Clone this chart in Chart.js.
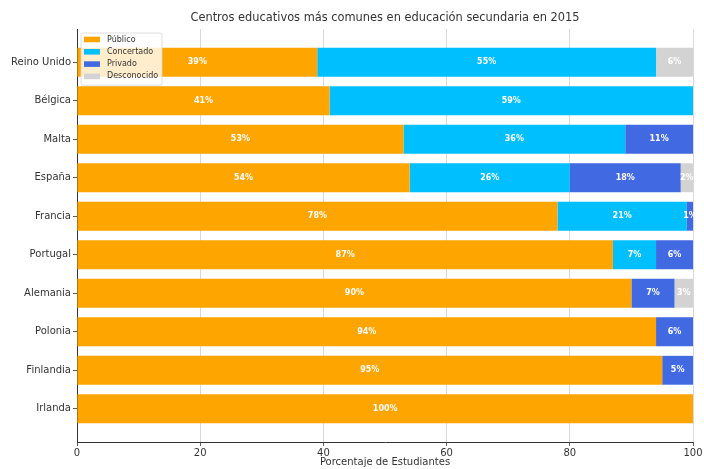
<!DOCTYPE html>
<html>
<head>
<meta charset="utf-8">
<script src="https://cdn.jsdelivr.net/npm/chart.js@4"></script>
<style>
  html, body { margin: 0; padding: 0; background: #ffffff; }
  #wrap { width: 704px; height: 469px; }
</style>
</head>
<body>
<div id="wrap"><canvas id="chart" width="704" height="469"></canvas></div>
<script>
// Country rows, top to bottom
const countries = ['Reino Unido', 'Bélgica', 'Malta', 'España', 'Francia', 'Portugal', 'Alemania', 'Polonia', 'Finlandia', 'Irlanda'];

// Share of secondary-school students by type of centre (%)
const publico     = [39, 41, 53, 54, 78, 87, 90, 94, 95, 100];
const concertado  = [55, 59, 36, 26, 21, 7, 0, 0, 0, 0];
const privado     = [0, 0, 11, 18, 1, 6, 7, 6, 5, 0];
const desconocido = [6, 0, 0, 2, 0, 0, 3, 0, 0, 0];

const xTicks = [0, 20, 40, 60, 80, 100];

const TITLE = 'Centros educativos más comunes en educación secundaria en 2015';
const FONT = "'DejaVu Sans', sans-serif";

function rows(values) {
  return values.map((v, i) => ({ x: v, y: i }));
}

function series(label, values, color) {
  return {
    label: label,
    data: rows(values),
    backgroundColor: color,
    borderWidth: 0,
    categoryPercentage: 1,
    barPercentage: 0.75
  };
}

// Title centred over the plot area
const plotTitle = {
  id: 'plotTitle',
  afterDraw(chart) {
    const ctx = chart.ctx;
    const area = chart.chartArea;
    ctx.save();
    ctx.font = "11.4px " + FONT;
    ctx.fillStyle = '#333333';
    ctx.textAlign = 'center';
    ctx.textBaseline = 'middle';
    ctx.fillText(TITLE, (area.left + area.right) / 2, 18);
    ctx.restore();
  }
};

// White percentage labels centred in each segment
const segmentLabels = {
  id: 'segmentLabels',
  afterDraw(chart) {
    const ctx = chart.ctx;
    ctx.save();
    ctx.font = "bold 8px " + FONT;
    ctx.fillStyle = '#ffffff';
    ctx.textAlign = 'center';
    ctx.textBaseline = 'middle';
    chart.data.datasets.forEach((ds, di) => {
      const meta = chart.getDatasetMeta(di);
      meta.data.forEach((bar, i) => {
        const v = ds.data[i].x;
        if (!v) return;
        const c = bar.getCenterPoint();
        ctx.fillText(v + '%', c.x, c.y);
      });
    });
    ctx.restore();
  }
};

// Framed legend in the upper-left corner of the plot
const boxLegend = {
  id: 'boxLegend',
  afterDraw(chart) {
    const ctx = chart.ctx;
    const area = chart.chartArea;
    const x0 = area.left + 4, y0 = area.top + 4;
    const w = 81, rowH = 12.3, h = 4 * rowH + 3;
    ctx.save();
    ctx.beginPath();
    ctx.roundRect(x0, y0, w, h, 2);
    ctx.fillStyle = 'rgba(255,255,255,0.8)';
    ctx.fill();
    ctx.strokeStyle = '#d6d6d6';
    ctx.lineWidth = 0.8;
    ctx.stroke();
    ctx.font = "8px " + FONT;
    ctx.textAlign = 'left';
    ctx.textBaseline = 'middle';
    chart.data.datasets.forEach((ds, i) => {
      const cy = y0 + 6.5 + i * rowH;
      ctx.fillStyle = ds.backgroundColor;
      ctx.fillRect(x0 + 3, cy - 2.8, 16, 5.6);
      ctx.fillStyle = '#333333';
      ctx.fillText(ds.label, x0 + 26, cy);
    });
    ctx.restore();
  }
};

const gridStyle = {
  offset: false,
  color: '#cfcfcf',
  lineWidth: 0.8,
  borderDash: [2.5, 2],
  tickColor: '#333333',
  tickLength: 4,
  tickWidth: 0.8,
  tickBorderDash: []
};

new Chart(document.getElementById('chart'), {
  type: 'bar',
  data: {
    datasets: [
      series('Público', publico, '#FFA500'),
      series('Concertado', concertado, '#00BFFF'),
      series('Privado', privado, '#4169E1'),
      series('Desconocido', desconocido, '#D3D3D3')
    ]
  },
  options: {
    indexAxis: 'y',
    responsive: false,
    animation: false,
    layout: { padding: { left: 0, right: 11, top: 29, bottom: 0 } },
    plugins: {
      legend: { display: false },
      tooltip: { enabled: false },
      title: { display: false }
    },
    scales: {
      x: {
        type: 'linear',
        stacked: true,
        offset: false,
        min: 0,
        max: 100,
        z: 1,
        afterBuildTicks(scale) {
          scale.ticks = xTicks.map(v => ({ value: v }));
        },
        afterFit(scale) { scale.height = 27; },
        ticks: {
          color: '#333333',
          font: { family: FONT, size: 10 },
          padding: 1,
          maxRotation: 0
        },
        grid: gridStyle,
        border: { display: true, color: '#333333', width: 1 },
        title: {
          display: true,
          text: 'Porcentaje de Estudiantes',
          color: '#333333',
          font: { family: FONT, size: 10 },
          padding: { top: 0, bottom: 1 }
        }
      },
      y: {
        type: 'linear',
        stacked: true,
        reverse: true,
        offset: false,
        min: -0.8625,
        max: 9.8625,
        z: 1,
        afterBuildTicks(scale) {
          scale.ticks = countries.map((_, i) => ({ value: i }));
        },
        afterFit(scale) { scale.width = 77; },
        ticks: {
          color: '#333333',
          font: { family: FONT, size: 10 },
          padding: 2,
          callback: (v) => countries[v]
        },
        grid: gridStyle,
        border: { display: true, color: '#333333', width: 1 }
      }
    }
  },
  plugins: [segmentLabels, boxLegend, plotTitle]
});
</script>
</body>
</html>
